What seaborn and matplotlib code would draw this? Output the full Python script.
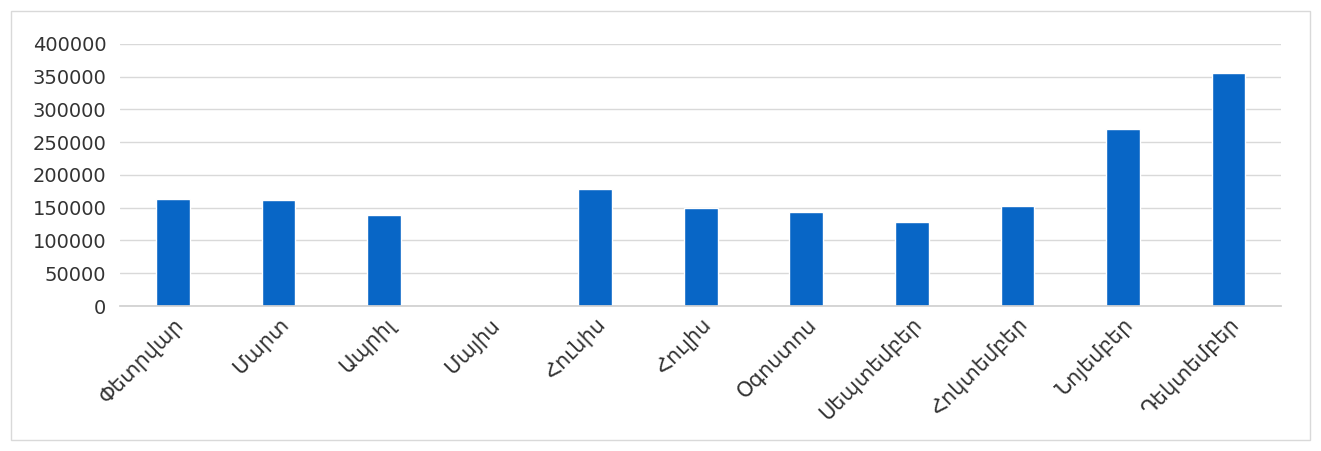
import matplotlib
matplotlib.use('Agg')
import matplotlib.pyplot as plt
import seaborn as sns
import pandas as pd
from matplotlib.patches import Rectangle

months = ['Փետրվար', 'Մարտ', 'Ապրիլ', 'Մայիս', 'Հունիս', 'Հուլիս',
          'Օգոստոս', 'Սեպտեմբեր', 'Հոկտեմբեր', 'Նոյեմբեր', 'Դեկտեմբեր']
values = [163500, 162000, 139000, 0, 178500, 149500,
          143500, 128500, 153000, 270000, 356000]
yticks = [0, 50000, 100000, 150000, 200000, 250000, 300000, 350000, 400000]

df = pd.DataFrame({'month': months, 'value': values})

sns.set_theme(style="white")
plt.rcParams['font.family'] = ['DejaVu Sans']

fig = plt.figure(figsize=(13.21, 4.51), dpi=100)
ax = fig.add_axes([0.091, 0.3215, 0.879, 0.581])

sns.barplot(data=df, x='month', y='value', color='#0866c6', width=0.32,
            saturation=1, ax=ax)

ax.set_ylim(0, 400000)
ax.set_yticks(yticks)
ax.set_yticklabels([str(v) for v in yticks], fontsize=14, color='#333333')
ax.set_xlim(-0.5, len(months) - 0.5)
ax.grid(axis='y', color='#d9d9d9', linewidth=1)
ax.set_axisbelow(True)
ax.set_xlabel('')
ax.set_ylabel('')
for s in ['top', 'left', 'right']:
    ax.spines[s].set_visible(False)
ax.spines['bottom'].set_color('#d0d0d0')
ax.tick_params(axis='y', length=0, pad=10)
ax.tick_params(axis='x', length=0, pad=6)
ax.set_xticks(range(len(months)))
ax.set_xticklabels(months, rotation=45, ha='right', rotation_mode='anchor',
                   fontsize=15, color='#333333')

# chart frame
fig.patches.append(Rectangle((0.008, 0.025), 0.984, 0.95, transform=fig.transFigure,
                             fill=False, edgecolor='#d9d9d9', linewidth=1))

fig.savefig('out.png', dpi=100)
